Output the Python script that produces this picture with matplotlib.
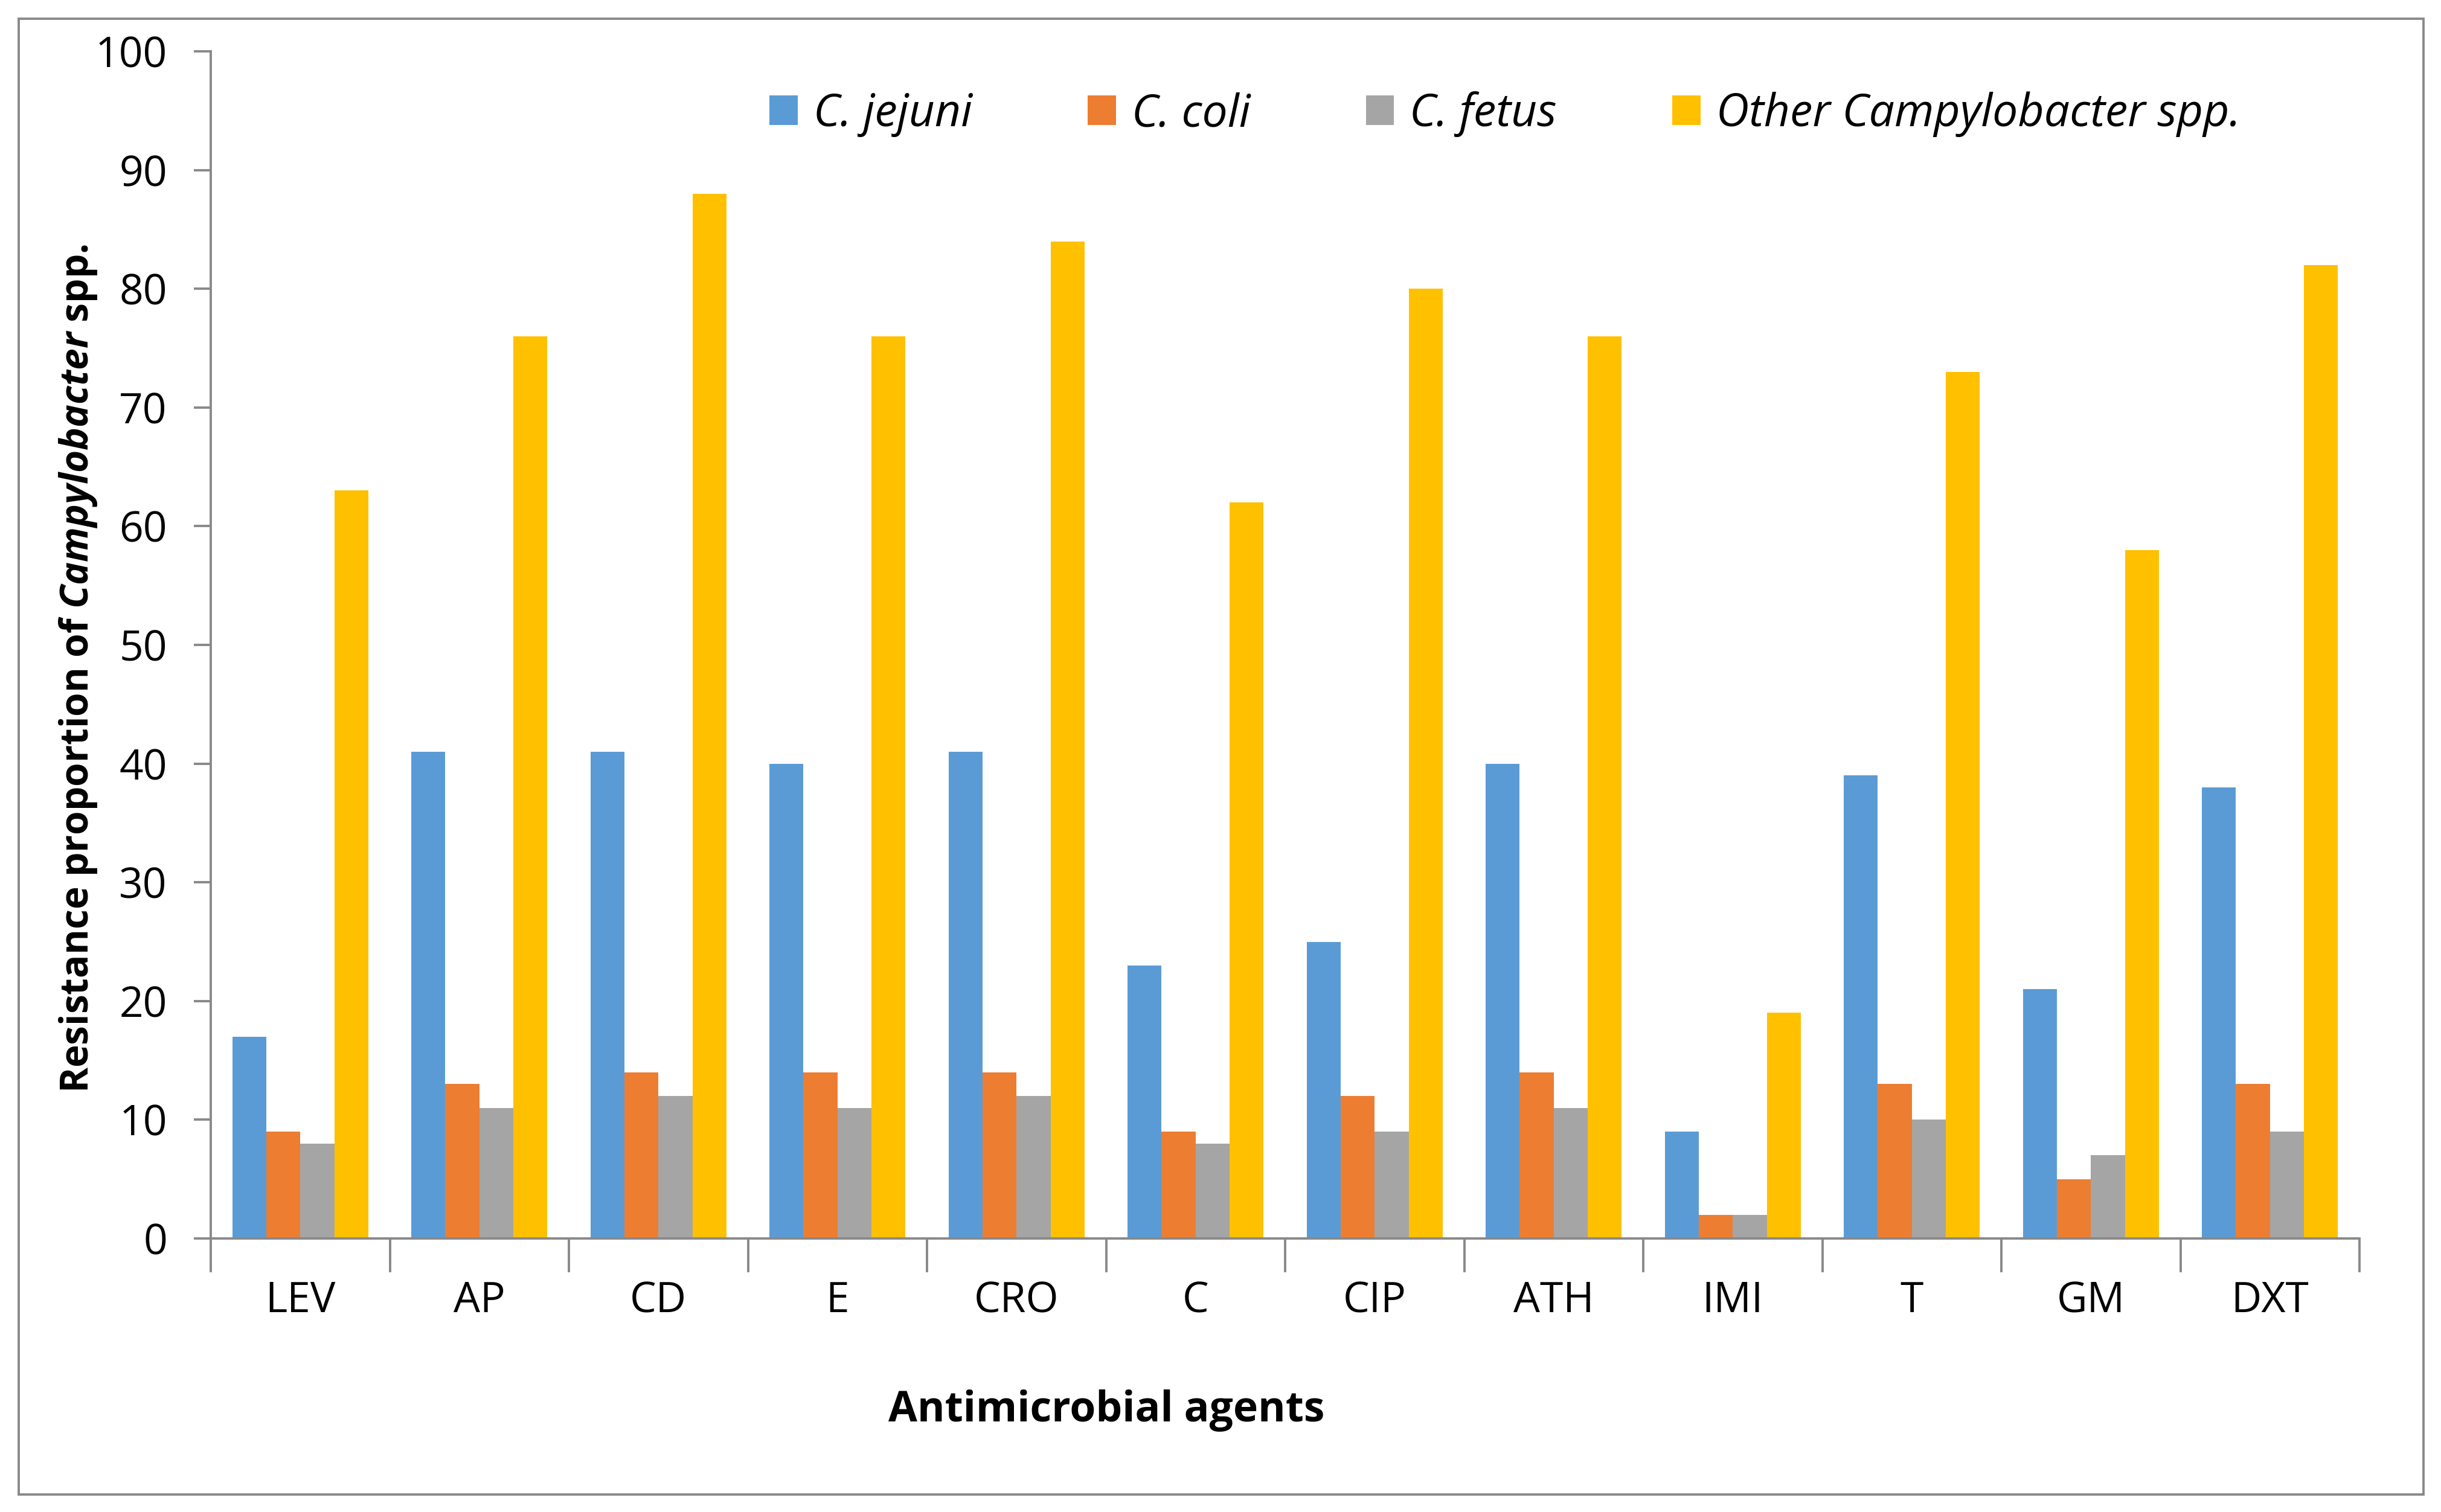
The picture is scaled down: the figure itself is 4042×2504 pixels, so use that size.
import numpy as np
import matplotlib.pyplot as plt
from matplotlib.patches import Rectangle

agents = ['LEV', 'AP', 'CD', 'E', 'CRO', 'C', 'CIP', 'ATH', 'IMI', 'T', 'GM', 'DXT']
jejuni = [17, 41, 41, 40, 41, 23, 25, 40, 9, 39, 21, 38]
coli = [9, 13, 14, 14, 14, 9, 12, 14, 2, 13, 5, 13]
fetus = [8, 11, 12, 11, 12, 8, 9, 11, 2, 10, 7, 9]
other = [63, 76, 88, 76, 84, 62, 80, 76, 19, 73, 58, 82]

series = [('C. jejuni', jejuni, '#5b9bd5'),
          ('C. coli', coli, '#ed7d31'),
          ('C. fetus', fetus, '#a5a5a5'),
          ('Other Campylobacter spp.', other, '#ffc000')]

plt.rcParams['font.family'] = ['Open Sans', 'DejaVu Sans']
plt.rcParams['mathtext.fontset'] = 'custom'
plt.rcParams['mathtext.it'] = 'Open Sans:italic:bold'
plt.rcParams['mathtext.rm'] = 'Open Sans:bold'

axis_grey = '#898989'

fig = plt.figure(figsize=(20.21, 12.52), dpi=200)
ax = fig.add_axes([349 / 4042, 1 - 2051 / 2504, (3907 - 349) / 4042, (2051 - 85) / 2504])

x = np.arange(len(agents))
w = 0.19
for i, (name, vals, col) in enumerate(series):
    ax.bar(x + (i - 1.5) * w, vals, width=w, color=col, label=name)

ax.set_xlim(-0.5, len(agents) - 0.5)
ax.set_ylim(0, 100)
ax.set_yticks(np.arange(0, 101, 10))
ax.tick_params(axis='y', labelsize=25, length=10, width=1.4, color=axis_grey, pad=16)

# ticks between categories, labels in the middle
ax.set_xticks(np.arange(-0.5, len(agents), 1))
ax.set_xticklabels([])
ax.tick_params(axis='x', which='major', length=20, width=1.4, color=axis_grey, direction='out')
ax.set_xticks(x, minor=True)
ax.set_xticklabels(agents, minor=True, fontsize=25)
ax.tick_params(axis='x', which='minor', length=0, pad=25)

for s in ['top', 'right']:
    ax.spines[s].set_visible(False)
for s in ['left', 'bottom']:
    ax.spines[s].set_color(axis_grey)
    ax.spines[s].set_linewidth(1.4)

ax.set_ylabel(r'Resistance proportion of $Campylobacter$ spp.', fontsize=23,
              fontweight='bold')
ax.yaxis.set_label_coords(-0.052, 0.48)
ax.set_xlabel('Antimicrobial agents', fontsize=25, fontweight='bold')
ax.xaxis.set_label_coords(0.417, -0.127)

leg = ax.legend(loc='center left', bbox_to_anchor=(0.26, 0.947), ncol=4, frameon=False,
                prop={'style': 'italic', 'size': 27}, handlelength=0.62, handleheight=0.62,
                handletextpad=0.35, columnspacing=2.55, borderaxespad=0, borderpad=0)

fig.patches.append(Rectangle((31 / 4042, 1 - 2475 / 2504), (4013 - 31) / 4042, (2475 - 31) / 2504,
                             transform=fig.transFigure, fill=False, edgecolor=axis_grey,
                             linewidth=1.4))

fig.savefig('out.png', dpi=200, facecolor='white')
